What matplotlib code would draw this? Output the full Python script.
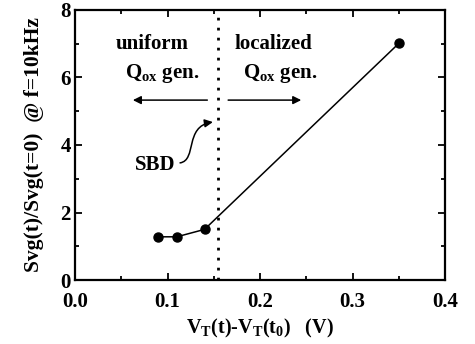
import matplotlib
matplotlib.use("Agg")
import matplotlib.pyplot as plt
from matplotlib.ticker import MultipleLocator
from matplotlib.patches import FancyArrowPatch
from matplotlib.path import Path

plt.rcParams['font.family'] = ['Liberation Serif', 'DejaVu Serif']
plt.rcParams['font.weight'] = 'bold'
plt.rcParams['axes.labelweight'] = 'bold'
plt.rcParams['mathtext.fontset'] = 'custom'
plt.rcParams['mathtext.rm'] = 'Liberation Serif:bold'
plt.rcParams['mathtext.it'] = 'Liberation Serif:bold'
plt.rcParams['mathtext.bf'] = 'Liberation Serif:bold'

x_vals = [0.09, 0.11, 0.14, 0.35]
y_vals = [1.28, 1.28, 1.50, 7.01]
sbd_x = 0.155

fig = plt.figure(figsize=(4.75, 3.44), dpi=100)
ax = fig.add_axes([0.158, 0.186, 0.779, 0.785])

ax.plot(x_vals, y_vals, color='black', lw=1.1, marker='o', ms=6.5, mfc='black', mec='black')
ax.axvline(sbd_x, color='black', ls=(0, (1, 2.6)), lw=2)

ax.set_xlim(0, 0.4)
ax.set_ylim(0, 8)
ax.xaxis.set_major_locator(MultipleLocator(0.1))
ax.xaxis.set_minor_locator(MultipleLocator(0.05))
ax.yaxis.set_major_locator(MultipleLocator(2))
ax.yaxis.set_minor_locator(MultipleLocator(1))
ax.tick_params(which='both', direction='in', top=True, right=True, width=1.3, labelsize=15)
ax.tick_params(which='major', length=5)
ax.tick_params(which='minor', length=3)
ax.tick_params(axis='x', pad=8.5)
ax.tick_params(axis='y', pad=3)
for s in ax.spines.values():
    s.set_linewidth(1.6)

ax.set_xlabel(r'V$_\mathregular{T}$(t)-V$_\mathregular{T}$(t$_\mathregular{0}$)   (V)', fontsize=14.5, labelpad=3.5)
ax.set_ylabel('Svg(t)/Svg(t=0)  @ f=10kHz', fontsize=15.5, labelpad=12)

ax.text(0.0832, 7.0, 'uniform', ha='center', va='center', fontsize=15)
ax.text(0.094, 6.12, r'Q$_\mathregular{ox}$ gen.', ha='center', va='center', fontsize=15)
ax.text(0.214, 7.0, 'localized', ha='center', va='center', fontsize=15)
ax.text(0.2216, 6.12, r'Q$_\mathregular{ox}$ gen.', ha='center', va='center', fontsize=15)

ax.annotate('', xy=(0.0595, 5.33), xytext=(0.146, 5.33),
            arrowprops=dict(arrowstyle='-|>', color='black', lw=1.1, mutation_scale=12))
ax.annotate('', xy=(0.2475, 5.33), xytext=(0.1625, 5.33),
            arrowprops=dict(arrowstyle='-|>', color='black', lw=1.1, mutation_scale=12))

ax.text(0.087, 3.41, 'SBD', ha='center', va='center', fontsize=15)
sbd_path = Path([(0.1135, 3.47), (0.132, 3.55), (0.118, 4.55), (0.149, 4.68)],
                [Path.MOVETO, Path.CURVE4, Path.CURVE4, Path.CURVE4])
ax.add_patch(FancyArrowPatch(path=sbd_path, arrowstyle='-|>', color='black', lw=1.1,
                             mutation_scale=12, transform=ax.transData))

fig.savefig('out.png', dpi=100)
